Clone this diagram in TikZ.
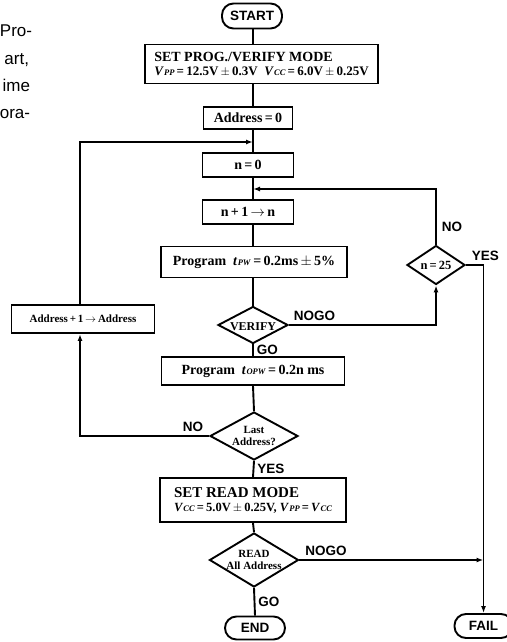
\documentclass[tikz,border=0pt]{standalone}
\usepackage{fontspec}
\setmainfont{Liberation Serif}
\newfontfamily\labfont{Liberation Sans}
\usetikzlibrary{shapes.geometric,arrows.meta}
\newcommand\vsub[2]{\textit{#1}\kern0.3pt{\fontsize{8.5}{8.5}\selectfont\textit{#2}}}
\begin{document}
\begin{tikzpicture}[x=1pt,y=-1pt,
  line width=1.9pt,
  box/.style={draw, rectangle, inner sep=0pt, font=\bfseries\fontsize{14}{15}\selectfont},
  term/.style={draw, rectangle, rounded corners=11.5pt, inner sep=0pt, font=\labfont\bfseries\fontsize{13.5}{14}\selectfont},
  dia/.style={draw, diamond, inner sep=0pt},
  dtext/.style={inner sep=0pt, align=center, font=\bfseries\fontsize{12}{12}\selectfont},
  lbl/.style={inner sep=0pt, font=\labfont\bfseries\fontsize{13.5}{14}\selectfont},
  frag/.style={inner sep=0pt, anchor=base east, font=\labfont\fontsize{17}{17}\selectfont},
  arr/.style={-{Latex[length=7pt,width=5pt]}},
]
\useasboundingbox (0,0) rectangle (506,642);

% fragments of surrounding page text
\node[frag] (f1) at (33,37) {Pro-};
\node[frag] (f2) at (30,64) {art,};
\node[frag] (f3) at (31,91) {ime};
\node[frag] (f4) at (31,118) {ora-};

\coordinate (sp) at (253,0);
\coordinate (lx) at (80,0);
\coordinate (j0) at (253,142);
\coordinate (j1) at (253,189);

% main column
\node[term, minimum width=60pt, minimum height=25pt] (start) at (252,16) {START};
\node[box, minimum width=233pt, minimum height=39pt, align=left] (set) at (261.5,64)
  {SET PROG./VERIFY MODE\\[-1pt]
   {\fontsize{13}{13}\selectfont\vsub{V}{PP}\,=\,12.5V\,$\pm$\,0.3V\ \ \vsub{V}{CC}\,=\,6.0V\,$\pm$\,0.25V}};
\node[box, minimum width=89pt, minimum height=22pt] (a0) at (248,118) {Address\,=\,0};
\node[box, minimum width=91pt, minimum height=24pt] (n0) at (248,165) {n\,=\,0};
\node[box, minimum width=91pt, minimum height=24pt] (n1) at (248,212) {n\,+\,1\,$\rightarrow$\,n};
\node[box, minimum width=186pt, minimum height=31pt] (pw) at (254,262)
  {Program\ \ \vsub{t}{PW}\,=\,0.2ms\,$\pm$\,5\%};
\node[dia, minimum width=70pt, minimum height=37pt] (ver) at (253,325) {};
\node[dtext] (vert) at ([yshift=-2pt]ver.center) {VERIFY};
\node[box, minimum width=183pt, minimum height=28pt] (opw) at (253,371)
  {Program\ \ \vsub{t}{OPW}\,=\,0.2n ms};
\node[dia, minimum width=88pt, minimum height=48pt] (last) at (254,436) {};
\node[dtext, font=\bfseries\fontsize{11}{11.5}\selectfont] (lastt) at (last.center) {Last\\Address?};
\node[box, minimum width=186pt, minimum height=44pt, align=left] (rd) at (253,500)
  {{\fontsize{15}{15}\selectfont SET READ MODE}\\[-1pt]
   {\fontsize{12.5}{13}\selectfont\vsub{V}{CC}\,=\,5.0V\,$\pm$\,0.25V,\ \vsub{V}{PP}\,=\,\vsub{V}{CC}}};
\node[dia, minimum width=89pt, minimum height=54pt] (rall) at (254,560) {};
\node[dtext, font=\bfseries\fontsize{11}{11.5}\selectfont] (rallt) at (rall.center) {READ\\All Address};
\node[term, minimum width=60pt, minimum height=23pt] (end) at (255,628) {END};

% right side
\node[dia, minimum width=58pt, minimum height=39pt] (n25) at (436,265) {};
\node[dtext, font=\bfseries\fontsize{12.5}{13}\selectfont] (n25t) at (n25.center) {n\,=\,25};
\node[term, minimum width=58pt, minimum height=24pt] (fail) at (483.5,626) {FAIL};

% left side
\node[box, minimum width=143pt, minimum height=28pt, font=\bfseries\fontsize{11}{12}\selectfont] (ainc) at (83,319)
  {Address\,+\,1\,$\rightarrow$\,Address};

% main vertical connectors
\draw (sp |- start.south) -- (sp |- set.north);
\draw (sp |- set.south) -- (sp |- a0.north);
\draw (sp |- a0.south) -- (sp |- n0.north);
\draw (sp |- n0.south) -- (sp |- n1.north);
\draw (sp |- n1.south) -- (sp |- pw.north);
\draw (sp |- pw.south) -- (ver.north);
\draw (ver.south) -- (sp |- opw.north)
  node[lbl, midway, anchor=west, xshift=3pt] {GO};
\draw (sp |- opw.south) -- (last.north);
\draw (last.south) -- (sp |- rd.north)
  node[lbl, midway, anchor=west, xshift=3pt] {YES};
\draw (sp |- rd.south) -- (rall.north);
\draw (rall.south) -- (end.north)
  node[lbl, midway, anchor=west, xshift=3pt] {GO};

% VERIFY NOGO -> n=25
\draw[arr] (ver.east) -- (ver.east -| n25.south) -- (n25.south);
\node[lbl, anchor=south west, xshift=4pt, yshift=3pt] (ng1) at (ver.east) {NOGO};

% n=25 NO -> back to n+1
\draw[arr] (n25.north) |- (j1);
\node[lbl, anchor=south west, xshift=5pt, yshift=12pt] (no1) at (n25.north) {NO};

% n=25 YES -> FAIL
\draw[arr] (n25.east) -| (fail.north);
\node[lbl, anchor=south west, xshift=5pt, yshift=3pt] (yes1) at (n25.east) {YES};

% READ NOGO -> FAIL line
\draw[arr] (rall.east) -- (rall.east -| fail.north);
\node[lbl, anchor=south west, xshift=5pt, yshift=3pt] (ng2) at (rall.east) {NOGO};

% Last Address NO -> Address+1
\draw[arr] (last.west) -- (lx |- last.west) -- (lx |- ainc.south);
\node[lbl, anchor=south east, xshift=-5pt, yshift=3pt] (no2) at (last.west) {NO};

% Address+1 -> back to n=0
\draw[arr] (lx |- ainc.north) -- (lx |- j0) -- (j0);
\end{tikzpicture}
\end{document}
